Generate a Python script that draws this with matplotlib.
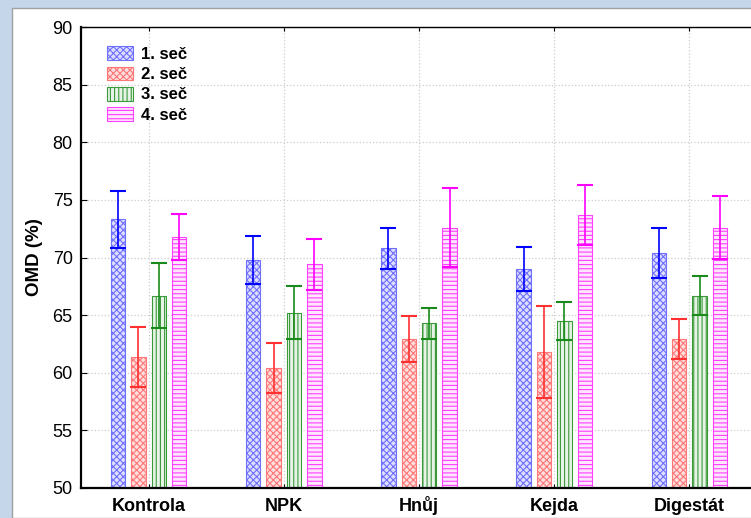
import matplotlib.pyplot as plt
import matplotlib.patches as mpatches
import numpy as np

plt.rcParams['font.family'] = ['Liberation Sans', 'DejaVu Sans']
plt.rcParams['hatch.linewidth'] = 0.8

groups = ['Kontrola', 'NPK', 'Hnůj', 'Kejda', 'Digestát']
series = ['1. seč', '2. seč', '3. seč', '4. seč']

# mean OMD (%) per cut, one list per series
sec1 = [73.3, 69.8, 70.8, 69.0, 70.4]
sec2 = [61.4, 60.4, 62.9, 61.8, 62.9]
sec3 = [66.7, 65.2, 64.3, 64.5, 66.7]
sec4 = [71.8, 69.4, 72.6, 73.7, 72.6]

# half-width of error bars
err1 = [2.5, 2.1, 1.8, 1.9, 2.2]
err2 = [2.6, 2.2, 2.0, 4.0, 1.75]
err3 = [2.85, 2.3, 1.35, 1.65, 1.7]
err4 = [2.0, 2.2, 3.4, 2.6, 2.7]

means = [sec1, sec2, sec3, sec4]
errs = [err1, err2, err3, err4]

line_colors = ['#0000ff', '#ff3030', '#1a8a1a', '#ff00ff']
face_colors = ['#dedeff', '#ffdede', '#e6f3e6', '#ffe6ff']
hatch_colors = ['#7070ff', '#ff7777', '#3a9a3a', '#ff40ff']
hatches = ['xxxxx', 'xxxxx', '||||', '----']
offsets = [-0.226, -0.0755, 0.0755, 0.226]
width = 0.106

fig = plt.figure(figsize=(7.51, 5.18), dpi=100, facecolor='#c6d6ea')
bg = mpatches.Rectangle((12 / 751, 0), 1, 1 - 8 / 518,
                        transform=fig.transFigure, facecolor='white',
                        edgecolor='#a0a0a0', linewidth=1, zorder=-10)
fig.patches.append(bg)
ax = fig.add_axes([81 / 751, 30 / 518, 676 / 751, 461 / 518])
ax.set_zorder(1)

x = np.arange(len(groups))
for i in range(4):
    ax.bar(x + offsets[i], means[i], width, bottom=0, color=face_colors[i],
           edgecolor=hatch_colors[i], hatch=hatches[i], linewidth=0.8,
           label=series[i], zorder=2)
    ax.errorbar(x + offsets[i], means[i], yerr=errs[i], fmt='none',
                ecolor=line_colors[i], elinewidth=1.2, capsize=5.5,
                capthick=1.5, zorder=3)

ax.set_ylim(50, 90)
ax.set_xlim(-0.5, 4.5)
ax.set_yticks(np.arange(50, 91, 5))
ax.set_xticks(x)
ax.set_xticklabels(groups, fontsize=13, fontweight='bold', va='baseline')
ax.tick_params(axis='y', labelsize=13, direction='in', length=4, pad=6)
ax.tick_params(axis='x', direction='in', length=3, pad=16.5, top=True)
ax.set_ylabel('OMD (%)', fontsize=13.5, fontweight='bold', labelpad=7)
ax.grid(True, color='#cccccc', linestyle=':', linewidth=0.9, zorder=0)
ax.set_axisbelow(True)
for s in ['left', 'bottom']:
    ax.spines[s].set_linewidth(1.6)
ax.spines['top'].set_linewidth(1.0)
ax.spines['right'].set_visible(False)

leg = ax.legend(loc='upper left', bbox_to_anchor=(0.0385, 0.958), frameon=False,
                prop={'weight': 'bold', 'size': 12}, handlelength=1.56,
                handleheight=0.9, labelspacing=0.27, handletextpad=0.45,
                borderpad=0, borderaxespad=0)

fig.savefig('out.png', dpi=100, facecolor=fig.get_facecolor())
